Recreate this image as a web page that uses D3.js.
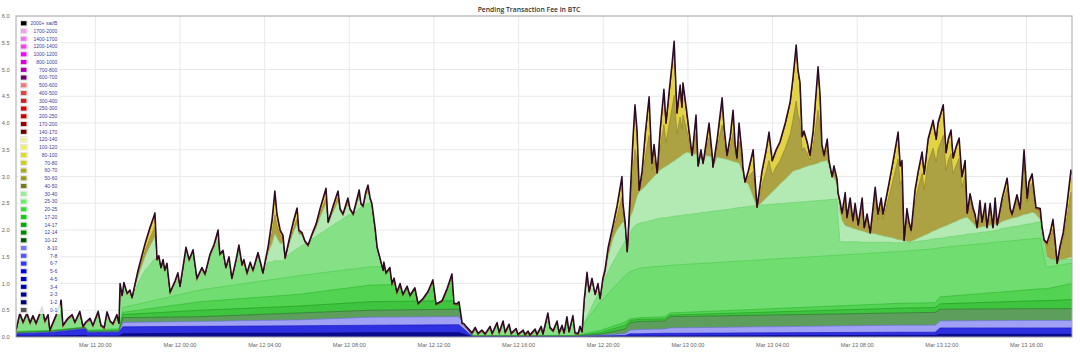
<!DOCTYPE html>
<html><head><meta charset="utf-8">
<script src="https://cdn.jsdelivr.net/npm/d3@7"></script>
<style>html,body{margin:0;padding:0;background:#fff;}svg{display:block;}</style>
</head><body>
<svg id="chart" width="1080" height="356"></svg>
<script>
// ---- DATA (minutes after Mar 11 16:15, BTC) ----
const minutes = [
// Mar 11 evening
0,11,20,31,40,48,57,74,82,91, 96,113,128,133,147,159,167,181,190,198, 210,218,233,241,250,258,267,275,286,292,
// Mar 11 21:00 - Mar 12 13:00
295,301,306,315,323,329,346,366,380,394, 400,405,411,417,422,428,437,451,459,465,
482,491,502,513,527,536,550,561,573,578, 587,595,604,612,624,632,641,646,655,664,
672,686,695,700,715,726,734,740,749,757, 763,777,788,797,802,811,819,828,839,851,
862,879,885,899,913,919,927,941,947,956, 973,978,984,992,998,1004,1009,1018,1024,1032,
1041,1043,1049,1060,1066,1072,1080,1089,1097,1109, 1117,1131,1140,1154,1168,1182,1191,1208,1222,1236,
1242,1250,1256,1265,1270,1276,1282,1293,
// Mar 12 afternoon (low)
1302,1310,1321,1330,1344,1350,1364,1370,1381,1387, 1398,1404,1418,1423,1438,1443,1452,1457,1472,1477,
1489,1494,1508,1514,1523,1534,1540,1548,1554,1562, 1568,1579,1585,1594,1599,1605,
// Mar 12 evening - Mar 13
1611,1619,1625,1633,1642,1650,1656,1664,1670,1679, 1693,1704,1718,1721,1727,1733,1741,1749,1755,1761,
1767,1775,1784,1795,1803,1809,1818,1826,1837,1843, 1852,1860,1866,1874,1883,1888,1891,1900,1908,1917,
1928,1934,1942,1948,1956,1965,1974,1976,1988,2002, 2008,2016,2025,2033,2039,2044,2050,2059,2061,2067,
2076,2090,2095,2101,2115,2127,2135,2144,2155,2166, 2181,2195,2203,2212,2217,2223,2229,2234,2243,2251,
2260,2274,2280,2285,2291,2300,2305,2314,2319,2328, 2331,2336,2342,2351,2356,2365,2373,2379,2388,2399,
2405,2413,2422,2436,2444,2453,2458,2473,2487,2501, 2507,2512,2518,2526,2532,2538,2549,2558,2569,2575,
2586,2600,2609,2614,2629,2637,2643,2651,2657,2665, 2674,2682,2691,2697,2705,2714,2719,2725,2733,2739,
2748,2753,2762,2770,2776,2782,2796,2810,2819,2824, 2838,2847,2858,2867,2872,2881,2887,2892,2904,2909,
2915,2923,2932,2940,2946,2952,2960,2969,2980,2991, 2994
];
const totalBTC = [
.13,.45,.28,.45,.27,.40,.26,.56,.30,.42, .13,.40,.69,.22,.35,.42,.28,.48,.20,.28, .35,.22,.48,.22,.18,.47,.30,.25,.42,.26,
1.00,.78,1.02,.82,.88,.74,1.25,1.75,2.05,2.32, 1.45,1.52,1.30,1.45,1.25,1.38,.84,1.05,1.20,.95,
1.68,1.45,1.63,1.10,1.30,1.18,1.55,1.72,2.00,1.55, 1.62,1.30,1.50,1.10,1.45,1.72,1.35,1.45,1.20,1.40,
1.25,1.58,1.35,1.20,1.70,2.20,2.73,2.30,2.00,1.90, 1.48,1.90,2.20,2.41,2.00,1.95,1.80,1.72,1.92,2.12,
2.40,2.78,2.15,2.45,2.73,2.40,2.30,2.60,2.40,2.30, 2.75,2.50,2.45,2.72,2.84,2.60,2.50,2.05,1.68,1.48,
1.25,1.40,1.20,1.30,1.00,1.10,.84,1.00,.80,.95, .78,.92,.63,.72,.85,1.07,.62,.68,.90,1.18,
.63,.62,.66,.26,.25,.20,.16,.08,
.18,.07,.13,.06,.20,.07,.27,.09,.30,.09, .24,.07,.16,.05,.13,.05,.11,.04,.15,.05,
.20,.06,.45,.18,.12,.30,.08,.22,.08,.38, .10,.40,.08,.07,.20,.10,
.70,1.21,.85,1.10,.80,1.00,.72,1.10,1.26,1.68, 2.10,2.45,3.00,2.50,2.15,1.60,2.60,3.68,4.34,3.85,
2.75,3.10,3.80,4.49,3.25,3.60,3.07,3.85,4.63,4.00, 4.60,5.10,5.53,4.19,4.71,4.30,4.75,4.30,3.87,3.40,
4.15,3.20,3.50,3.25,3.60,4.00,3.40,3.18,3.70,4.47, 3.90,3.40,3.75,4.24,3.60,3.35,4.00,3.40,3.18,2.90,
3.10,3.50,3.00,2.43,3.10,3.50,3.83,3.30,3.50,3.65, 4.00,4.40,4.85,5.46,5.00,4.75,3.75,3.85,3.65,3.40,
3.85,5.05,4.50,3.60,3.40,3.70,3.30,3.00,3.20,2.95, 2.69,2.55,2.32,2.70,2.24,2.60,2.18,2.50,2.10,2.60,
2.05,2.30,1.95,2.80,2.30,2.60,2.30,2.80,3.30,3.83, 3.20,3.30,1.81,2.40,2.15,2.00,2.75,3.10,3.46,3.05,
3.70,4.05,3.70,4.00,4.34,3.45,3.70,3.87,3.35,3.55, 3.72,3.00,3.30,2.32,2.68,2.40,2.30,2.05,2.55,2.15,
2.50,2.05,2.50,2.05,2.60,2.10,2.60,2.97,2.40,2.30, 2.66,2.40,3.50,2.60,2.90,3.05,2.70,2.42,2.40,2.07,
1.82,1.76,1.95,2.20,1.82,1.38,1.70,1.95,2.50,3.12, 3.05
];
// BTC in fees paying at least 30 / 40 / 60 sat/B
const over30 = [
0,.06,0,.05,0,.04,0,.08,0,.04, 0,.05,.10,0,.03,.05,0,.06,0,.02, .04,0,.06,0,0,.05,0,0,.05,0,
.05,0,.04,0,.02,0,.25,.50,.70,.85, 0,.03,0,.03,0,.02,0,.02,.03,0,
.15,.03,.08,0,.03,0,.06,.10,.18,0, .03,0,.04,0,.05,.10,0,.02,0,.03,
0,.06,0,0,.30,.80,1.30,.88,.58,.48, 0,.34,.59,.76,.33,.24,.06,0,.09,.24,
.47,.78,.12,.36,.58,.23,.09,.33,.11,0, .35,.08,0,.24,.34,.10,0,0,0,0,
0,.03,0,.03,0,.02,0,.03,0,.03, 0,.03,0,.02,.05,.10,0,.02,.06,.12,
0,0,.02,0,0,0,0,0,
.02,0,.01,0,.02,0,.03,0,.03,0, .02,0,.01,0,.01,0,.01,0,.01,0,
.02,0,.05,0,0,.03,0,.02,0,.04, 0,.04,0,0,.02,0,
.44,.83,.39,.52,.11,.20,0,.10,.17,.46, .70,.92,1.31,.78,.36,0,.65,1.64,2.26,1.74,
.63,.96,1.65,2.32,1.07,1.41,.86,1.63,2.40,1.77, 2.36,2.85,3.27,1.93,2.44,2.03,2.47,2.01,1.58,1.10,
1.84,.89,1.18,.92,1.27,1.66,1.05,.83,1.34,2.10, 1.52,1.02,1.36,1.84,1.19,.94,1.58,.98,.75,.47,
.66,1.05,.54,0,.63,1.03,1.35,.82,1.01,1.16, 1.50,1.89,2.34,2.94,2.48,2.23,1.22,1.32,1.12,.86,
1.31,2.50,1.95,1.04,.84,1.14,.73,.43,.63,.37, .49,.77,.54,.92,.46,.82,.40,.72,.32,.83,
.28,.53,.18,1.03,.53,.83,.53,1.03,1.54,2.07, 1.44,1.54,.05,.63,.38,.23,.97,1.31,1.66,1.25,
1.89,2.22,1.86,2.16,2.49,1.59,1.83,1.99,1.47,1.66, 1.82,1.10,1.39,.40,.75,.47,.36,.11,.60,.19,
.54,.08,.53,.07,.61,.11,.57,.93,.35,.24, .59,.32,1.40,.49,.79,.93,.57,.28,.25,.15,
.14,.31,.50,.75,.37,0,.25,.50,1.05,1.67, 1.60
];
const over40 = [
0,.04,0,.03,0,.03,0,.05,0,.02, 0,.03,.07,0,.02,.03,0,.04,0,0, .02,0,.04,0,0,.03,0,0,.03,0,
.03,0,.02,0,0,0,.12,.25,.35,.45, 0,.01,0,.01,0,0,0,0,.01,0,
.08,.01,.04,0,.01,0,.03,.05,.09,0, .01,0,.02,0,.02,.05,0,0,0,.01,
0,.03,0,0,.12,.45,.80,.45,.25,.15, 0,.12,.22,.30,.08,.05,0,0,.03,.08,
.16,.28,.02,.12,.20,.05,0,.12,.02,0, .12,.02,0,.08,.12,.03,0,0,0,0,
0,.01,0,.01,0,0,0,.01,0,.01, 0,.01,0,0,.03,.06,0,0,.03,.07,
0,0,0,0,0,0,0,0,
.01,0,0,0,.01,0,.02,0,.02,0, .01,0,0,0,0,0,0,0,0,0,
.01,0,.03,0,0,.02,0,.01,0,.02, 0,.02,0,0,.01,0,
.04,.09,0,.06,0,.05,0,.06,.10,.18, .25,.45,.87,.35,.03,0,.38,1.32,1.85,1.22,
.04,.34,.98,1.59,.29,.60,.01,.73,1.46,.81, 1.37,1.83,2.24,.86,1.34,.90,1.34,.85,.42,0,
.72,0,.09,0,.21,.62,.03,0,.34,1.13, .57,.08,.45,.96,.33,.09,.75,.29,.12,0,
.24,.88,.47,0,.58,.90,1.18,.59,.72,.79, 1.05,1.36,1.75,2.34,1.87,1.61,.59,.68,.46,.19,
.63,1.80,1.23,.32,.11,.40,.09,0,.22,.10, 0,.20,.14,.62,.17,.55,.15,.48,.10,.62,
.08,.35,.01,.87,.39,.70,.41,.93,1.45,2.01, 1.38,1.49,.01,.61,.37,.21,.93,1.25,1.58,1.15,
1.77,2.07,1.70,1.98,2.28,1.37,1.60,1.75,1.21,1.39, 1.53,.79,1.07,.08,.50,.28,.22,.01,.50,.09,
.43,0,.40,0,.48,0,.44,.78,.19,.08, .42,.14,1.21,.30,.59,.72,.38,.13,.20,.07,
.02,.26,.49,.75,.37,0,.25,.50,1.03,1.63, 1.55
];
const over60 = [
0,.02,0,.02,0,.01,0,.03,0,.01, 0,.02,.04,0,0,.02,0,.02,0,0, .01,0,.02,0,0,.02,0,0,.02,0,
.02,0,.01,0,0,0,.07,.14,.20,.25, 0,0,0,0,0,0,0,0,0,0,
.04,0,.02,0,0,0,.01,.03,.05,0, 0,0,0,0,.01,.02,0,0,0,0,
0,.01,0,0,.06,.25,.45,.22,.10,.05, 0,.08,.15,.20,.04,.02,0,0,.02,.05,
.10,.18,0,.08,.13,.02,0,.07,0,0, .08,0,0,.05,.08,.01,0,0,0,0,
0,0,0,0,0,0,0,0,0,0, 0,0,0,0,.01,.03,0,0,.02,.04,
0,0,0,0,0,0,0,0,
0,0,0,0,0,0,.01,0,.01,0, 0,0,0,0,0,0,0,0,0,0,
0,0,.02,0,0,.01,0,0,0,.01, 0,.01,0,0,0,0,
.02,.04,0,.03,0,.02,0,.03,.05,.08, .11,.20,.39,.16,.01,0,.17,.59,.83,.55,
.02,.15,.44,.72,.13,.27,0,.33,.66,.36, .62,.82,1.01,.39,.60,.41,.60,.38,.19,0,
.32,0,.04,0,.09,.28,.01,0,.15,.51, .26,.04,.20,.43,.15,.04,.34,.13,.05,0,
.11,.40,.21,0,.26,.40,.53,.27,.32,.36, .47,.61,.79,1.05,.84,.72,.27,.31,.21,.09,
.28,.81,.55,.14,.05,.18,.04,0,.10,.05, 0,.05,.04,.16,.04,.14,.04,.12,.03,.16,
.02,.09,0,.22,.10,.18,.10,.23,.36,.50, .35,.37,0,.15,.09,.05,.23,.31,.40,.29,
.44,.52,.43,.50,.57,.34,.40,.44,.30,.35, .38,.20,.27,.02,.13,.07,.06,0,.13,.02,
.11,0,.10,0,.12,0,.11,.20,.05,.02, .11,.04,.30,.08,.15,.18,.10,.03,.05,.02,
.01,.07,.12,.19,.09,0,.06,.13,.26,.41, .39
];
// slowly changing low-fee layers (cumulative BTC up to a fee level)
const baseMinutes = [0,96,196,204,292,303,522,805,1004,1256, 1293,1585,1656,1727,1741,1769,1840,1854,2507,2606, 2620,2904,2921,2994];
const upTo2  = [.02,.02,.03,.02,.02,.06,.07,.07,.08,.08, .005,.005,.01,.01,.02,.02,.02,.02,.03,.03, .05,.05,.05,.05];
const upTo8  = [.06,.08,.15,.08,.09,.19,.20,.21,.22,.23, .01,.01,.02,.03,.06,.06,.07,.07,.09,.09, .17,.17,.17,.17];
const upTo10 = [.07,.09,.16,.09,.10,.27,.29,.32,.37,.38, .012,.012,.03,.06,.13,.14,.15,.17,.22,.22, .30,.31,.31,.31];
const upTo12 = [.08,.10,.17,.10,.11,.36,.38,.45,.50,.52, .015,.015,.05,.15,.27,.29,.30,.38,.45,.46, .52,.53,.53,.53];
const upTo17 = [.09,.11,.18,.11,.12,.42,.50,.58,.66,.68, .02,.02,.08,.22,.31,.33,.34,.41,.54,.55, .62,.68,.68,.70];
const upTo20 = [.10,.12,.18,.12,.14,.46,.66,.80,.97,1.00, .025,.025,.12,.28,.34,.36,.38,.45,.63,.64, .75,.90,.90,1.00];
const upTo25 = [.11,.12,.19,.13,.16,.55,.88,1.15,1.31,1.35, .03,.03,.65,1.15,1.22,1.29,1.33,1.34,1.60,1.65, 1.67,1.85,1.30,1.38];

const legendLabels = ["2000+ sat/B","1700-2000","1400-1700","1200-1400","1000-1200","800-1000","700-800","600-700",
  "500-600","400-500","300-400","250-300","200-250","170-200","140-170","120-140","100-120","80-100","70-80",
  "60-70","50-60","40-50","30-40","25-30","20-25","17-20","14-17","12-14","10-12","8-10","7-8","6-7","5-6",
  "4-5","3-4","2-3","1-2","0-1"];
const legendColors = ["#000000","#f0a0f0","#ee77ee","#ee44ee","#ff00ff","#dd00dd","#aa00aa","#660066",
  "#ee7777","#dd4444","#cc2222","#dd0000","#cc0000","#990000","#660000","#eeee99","#eeee55","#dddd22","#cccc22",
  "#aaaa22","#999922","#777722","#99ee99","#66ee66","#33dd33","#11cc11","#00aa00","#008800","#005500","#7777ff",
  "#5555ff","#3333ff","#0000ee","#0000cc","#0000bb","#000099","#000077","#555555"];
const yTickValues = [0,0.5,1,1.5,2,2.5,3,3.5,4,4.5,5,5.5,6];
const chartTitle = "Pending Transaction Fee in BTC";

// ---- DRAW ----
const start = new Date(2018, 2, 11, 16, 15);
const toDate = m => new Date(start.getTime() + m * 60000);
const P = {left:16, right:1072, top:16, bottom:337};
const svg = d3.select("#chart");
const x = d3.scaleTime().domain([toDate(minutes[0]), toDate(minutes[minutes.length-1])]).range([P.left, P.right]);
const y = d3.scaleLinear().domain([0,6]).range([P.bottom, P.top]);

const fine = minutes.map((m,i)=>({t:toDate(m), total: totalBTC[i],
  l60: totalBTC[i]-over60[i], l40: totalBTC[i]-over40[i], l30: totalBTC[i]-over30[i]}));
const base = baseMinutes.map((m,i)=>({t:toDate(m), c2:upTo2[i], c8:upTo8[i], c10:upTo10[i],
  c12:upTo12[i], c17:upTo17[i], c20:upTo20[i], c25:upTo25[i]}));

const defs = svg.append("defs");
defs.append("clipPath").attr("id","plotClip").append("rect")
  .attr("x",P.left).attr("y",P.top).attr("width",P.right-P.left).attr("height",P.bottom-P.top);
const areaOf = key => d3.area().x(d=>x(d.t)).y0(y(0)).y1(d=>y(d[key]));
const lineOf = key => d3.line().x(d=>x(d.t)).y(d=>y(d[key]));
defs.append("clipPath").attr("id","totalClip").append("path").attr("d", areaOf("total")(fine));

// grid
const grid = svg.append("g");
yTickValues.forEach(v=>grid.append("line").attr("x1",P.left).attr("x2",P.right).attr("y1",y(v)).attr("y2",y(v))
  .attr("stroke","#e9e9e9").attr("stroke-width",1));
const xTicks = x.ticks(d3.timeHour.every(4));
xTicks.forEach(t=>grid.append("line").attr("x1",x(t)).attr("x2",x(t)).attr("y1",P.top).attr("y2",P.bottom)
  .attr("stroke","#e9e9e9").attr("stroke-width",1));

const plot = svg.append("g").attr("clip-path","url(#plotClip)");
const fineLayers = [
  {k:"total", fill:"#e0d444"},
  {k:"l60", fill:"#aca143", line:"#8a7f2a"},
  {k:"l40", fill:"#b3e9b3", line:"#93c77a"},
  {k:"l30", fill:"#86e186", line:"#66d066"}
];
fineLayers.forEach(L=>plot.append("path").attr("d",areaOf(L.k)(fine)).attr("fill",L.fill));
const inner = plot.append("g").attr("clip-path","url(#totalClip)");
const baseLayers = [
  {k:"c25", fill:"#70dd70", line:"#4cc94c"},
  {k:"c20", fill:"#52d452", line:"#2fb42f"},
  {k:"c17", fill:"#3ec43e", line:"#1f981f"},
  {k:"c12", fill:"#5d9e5d", line:"#2e6e2e"},
  {k:"c10", fill:"#a0a0f5", line:"#7070e6"},
  {k:"c8",  fill:"#2f2fe2", line:"#1414b4"},
  {k:"c2",  fill:"#0c0c8a", line:"#00006a"}
];
baseLayers.forEach(L=>inner.append("path").attr("d",areaOf(L.k)(base)).attr("fill",L.fill));
fineLayers.slice(1).forEach(L=>inner.append("path").attr("d",lineOf(L.k)(fine)).attr("fill","none")
  .attr("stroke",L.line).attr("stroke-width",0.6));
baseLayers.forEach(L=>inner.append("path").attr("d",lineOf(L.k)(base)).attr("fill","none")
  .attr("stroke",L.line).attr("stroke-width",0.6));
plot.append("path").attr("d",lineOf("total")(fine)).attr("fill","none").attr("stroke","#a01818")
  .attr("stroke-width",1.2).attr("transform","translate(0,1)").attr("clip-path","url(#totalClip)");
plot.append("path").attr("d",lineOf("total")(fine)).attr("fill","none").attr("stroke","#2a0b24")
  .attr("stroke-width",1.5).attr("stroke-linejoin","round");

// border
svg.append("rect").attr("x",P.left).attr("y",P.top).attr("width",P.right-P.left).attr("height",P.bottom-P.top)
  .attr("fill","none").attr("stroke","#a8a8a8").attr("stroke-width",1);

// axes labels
const font = "'Liberation Sans', Arial, sans-serif";
svg.append("g").selectAll("text").data(yTickValues).join("text")
  .attr("x",9.5).attr("y",d=>y(d)+2).attr("text-anchor","end")
  .attr("font-family",font).attr("font-size",5.6).attr("fill","#666").text(d=>d3.format(".1f")(d));
const fmt = d3.timeFormat("%b %d %H:%M");
svg.append("g").selectAll("text").data(xTicks).join("text")
  .attr("x",d=>x(d)).attr("y",346.5).attr("text-anchor","middle")
  .attr("font-family",font).attr("font-size",5.6).attr("fill","#666").text(d=>fmt(d));

// title
svg.append("text").attr("x",529).attr("y",12.3).attr("text-anchor","middle")
  .attr("font-family","'Open Sans', sans-serif").attr("font-weight",600).attr("font-size",6.8)
  .attr("fill","#333").text(chartTitle);

// legend
const lg = svg.append("g");
const rowY = i => 23.3 + i*7.75;
lg.append("rect").attr("x",18).attr("y",18.5).attr("width",42).attr("height",rowY(legendLabels.length-1)+4-18.5)
  .attr("fill","#fff").attr("opacity",0.85);
legendLabels.forEach((lab,i)=>{
  lg.append("rect").attr("x",20.2).attr("y",rowY(i)-2.8).attr("width",7).attr("height",5.6)
    .attr("fill","#fff").attr("stroke","#d0d0d0").attr("stroke-width",0.5);
  lg.append("rect").attr("x",20.9).attr("y",rowY(i)-2.1).attr("width",5.6).attr("height",4.2).attr("fill",legendColors[i]);
  lg.append("text").attr("x",57.3).attr("y",rowY(i)+1.8).attr("text-anchor","end")
    .attr("font-family",font).attr("font-size",5).attr("fill","#3c3c9a").text(lab);
});
</script>
</body></html>
